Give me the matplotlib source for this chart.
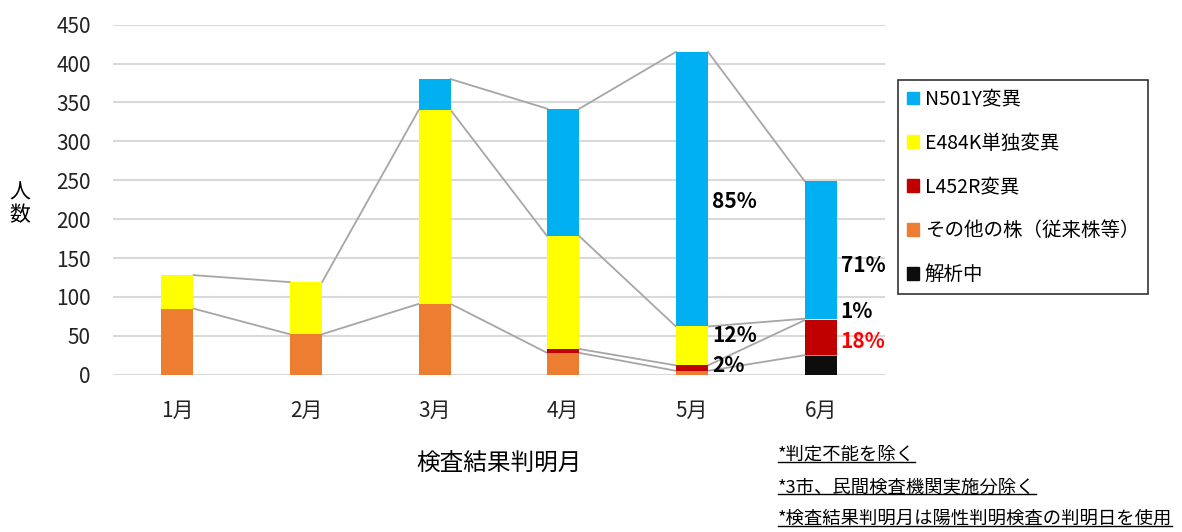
import matplotlib.pyplot as plt
from matplotlib.patches import Patch
from matplotlib.lines import Line2D
import numpy as np

plt.rcParams['font.family'] = ['Noto Sans CJK JP', 'DejaVu Sans']

# Data
months = ['1月', '2月', '3月', '4月', '5月', '6月']
series = ['解析中', 'その他の株（従来株等）', 'L452R変異', 'E484K単独変異', 'N501Y変異']
analyzing = [0, 0, 0, 0, 0, 24]
other = [85, 52, 91, 28, 5, 1]
l452r = [0, 0, 0, 5, 7, 45]
e484k = [43, 67, 249, 145, 50, 2]
n501y = [0, 0, 40, 164, 353, 177]
colors = ['#0D0D0D', '#ED7D31', '#C00000', '#FFFF00', '#00B0F0']

# percent labels: (month index, y, text, color)
pct_labels = [
    (4, 223, '85%', 'black'),
    (4, 51, '12%', 'black'),
    (4, 12, '2%', 'black'),
    (5, 140, '71%', 'black'),
    (5, 81, '1%', 'black'),
    (5, 43, '18%', 'red'),
]
notes = ['*判定不能を除く', '*3市、民間検査機関実施分除く', '*検査結果判明月は陽性判明検査の判明日を使用']

fig = plt.figure(figsize=(11.82, 5.32), dpi=100)
ax = fig.add_axes([0.0956, 0.2957, 0.6531, 0.6579])

x = np.arange(len(months))
w = 0.25
data = [analyzing, other, l452r, e484k, n501y]
bottom = np.zeros(len(months))
for vals, c in zip(data, colors):
    vals = np.array(vals)
    ax.bar(x, vals, w, bottom=bottom, color=c, zorder=3)
    top = bottom + vals
    # series lines, only where the series is present in both bars
    for i in range(len(months) - 1):
        if vals[i] > 0 and vals[i + 1] > 0:
            ax.plot([x[i] + w / 2, x[i + 1] - w / 2], [top[i], top[i + 1]],
                    color='#a6a6a6', lw=1.3, zorder=2)
    bottom = top

for i, yv, txt, c in pct_labels:
    ax.text(x[i] + w / 2 + 0.03, yv, txt, ha='left', va='center',
            fontsize=15, fontweight='bold', color=c)

ax.set_xlim(-0.5, len(months) - 0.5)
ax.set_ylim(0, 450)
ax.set_yticks(range(0, 451, 50))
ax.set_xticks(x)
ax.set_xticklabels(months)
ax.yaxis.grid(True, color='#d9d9d9', lw=1.5, zorder=0)
ax.set_axisbelow(True)
for s in ax.spines.values():
    s.set_visible(False)
ax.tick_params(length=0, labelsize=15, colors='#222222')
ax.tick_params(axis='x', pad=18)
ax.tick_params(axis='y', pad=16)
ax.set_xlabel('検査結果判明月', fontsize=17, labelpad=22)

fig.text(0.017, 0.617, '人\n数', ha='center', va='center', fontsize=15, linespacing=1.05)

handles = [Patch(color=colors[k]) for k in [4, 3, 2, 1, 0]]
labels = [series[k] for k in [4, 3, 2, 1, 0]]
leg = fig.legend(handles, labels, loc='upper left', bbox_to_anchor=(0.760, 0.850),
                 borderaxespad=0, fontsize=14, handlelength=0.6, handleheight=0.6,
                 handletextpad=0.3, labelspacing=1.18, fancybox=False,
                 edgecolor='black', borderpad=0.45)
leg.get_frame().set_linewidth(1.2)

# footnotes, underlined
fig.canvas.draw()
r = fig.canvas.get_renderer()
for k, note in enumerate(notes):
    yy = 1 - (455 + 32 * k) / 532
    t = fig.text(778 / 1182, yy, note, ha='left', va='center', fontsize=13.2)
    bb = t.get_window_extent(r).transformed(fig.transFigure.inverted())
    fig.add_artist(Line2D([bb.x0, bb.x1], [bb.y0 + 0.004, bb.y0 + 0.004],
                          color='black', lw=1, transform=fig.transFigure))

fig.savefig('out.png', dpi=100)
